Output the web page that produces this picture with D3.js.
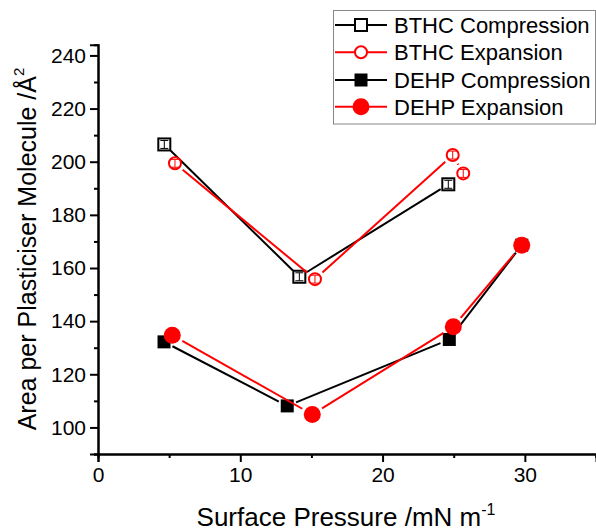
<!DOCTYPE html>
<html>
<head>
<meta charset="utf-8">
<script src="https://cdn.jsdelivr.net/npm/d3@7"></script>
<style>
  html, body { margin: 0; padding: 0; background: #fff; }
  svg { display: block; font-family: "Liberation Sans", Arial, sans-serif; }
</style>
</head>
<body>
<svg id="chart" width="596" height="531"></svg>
<script>
// Surface pressure (mN/m) and area per plasticiser molecule (Å²)
const bthcCompX = [4.66, 14.15, 24.62];
const bthcCompY = [206.5, 156.7, 191.5];
const bthcExpX  = [5.41, 15.25, 24.93, 25.67];
const bthcExpY  = [199.4, 155.8, 202.5, 195.6];
const dehpCompX = [4.64, 13.30, 24.69, 29.78];
const dehpCompY = [132.2, 108.1, 133.1, 168.6];
const dehpExpX  = [5.22, 15.06, 24.97, 29.78];
const dehpExpY  = [134.7, 104.9, 137.9, 168.6];
const errBar = 1.5;

const xTicks = [0, 10, 20, 30];
const yTicks = [100, 120, 140, 160, 180, 200, 220, 240];

const series = [
  { name: "BTHC Compression", xs: bthcCompX, ys: bthcCompY, color: "#000000", shape: "square", filled: false },
  { name: "BTHC Expansion",   xs: bthcExpX,  ys: bthcExpY,  color: "#ff0000", shape: "circle", filled: false },
  { name: "DEHP Compression", xs: dehpCompX, ys: dehpCompY, color: "#000000", shape: "square", filled: true },
  { name: "DEHP Expansion",   xs: dehpExpX,  ys: dehpExpY,  color: "#ff0000", shape: "circle", filled: true }
];

const svg = d3.select("#chart");
const x = d3.scaleLinear().domain([0, 35]).range([98, 596]);
const y = d3.scaleLinear().domain([90, 244]).range([454, 44.8]);

// axes
const xAxis = d3.axisBottom(x).tickValues(xTicks).tickSize(8).tickPadding(5).tickFormat(d3.format("d"));
const yAxis = d3.axisLeft(y).tickValues(yTicks).tickSize(8).tickPadding(4).tickFormat(d3.format("d"));
const xMinor = d3.axisBottom(x).tickValues([5, 15, 25, 35]).tickSize(4).tickFormat("");
const yMinor = d3.axisLeft(y).tickValues([90, 110, 130, 150, 170, 190, 210, 230]).tickSize(4).tickFormat("");

function styleAxis(g) {
  g.select(".domain").attr("stroke", "#000").attr("stroke-width", 2);
  g.selectAll(".tick line").attr("stroke", "#000").attr("stroke-width", 2);
  g.selectAll(".tick text").attr("fill", "#000").attr("font-size", 21)
    .attr("font-family", "Liberation Sans, Arial, sans-serif");
}
svg.append("g").attr("transform", `translate(0,${y(90)})`).call(xMinor).call(styleAxis);
svg.append("g").attr("transform", `translate(${x(0)},0)`).call(yMinor).call(styleAxis);
svg.append("g").attr("transform", `translate(0,${y(90)})`).call(xAxis).call(styleAxis);
svg.append("g").attr("transform", `translate(${x(0)},0)`).call(yAxis).call(styleAxis);
svg.selectAll(".domain").attr("d", function () { return d3.select(this).attr("d"); });

// axis titles
const xt = svg.append("text").attr("x", 346).attr("y", 526).attr("text-anchor", "middle")
  .attr("font-size", 26).attr("fill", "#000");
xt.append("tspan").text("Surface Pressure /mN m");
xt.append("tspan").attr("font-size", 16).attr("dy", -11).text("-1");

const yt = svg.append("text").attr("transform", "translate(36,249) rotate(-90)")
  .attr("text-anchor", "middle").attr("font-size", 25).attr("fill", "#000");
yt.append("tspan").text("Area per Plasticiser Molecule /Å");
yt.append("tspan").attr("font-size", 15).attr("dy", -12).text("2");

// marker drawing
function markerSize(s) {
  if (s.shape === "square") return s.filled ? 6.5 : 6;
  return s.filled ? 8.5 : 7;
}
function drawMarker(g, s, cx, cy) {
  const r = markerSize(s);
  if (s.shape === "square") {
    g.append("rect").attr("x", cx - r).attr("y", cy - r).attr("width", 2 * r).attr("height", 2 * r)
      .attr("fill", s.filled ? s.color : "#fff").attr("stroke", s.color).attr("stroke-width", s.filled ? 0 : 2);
  } else {
    g.append("circle").attr("cx", cx).attr("cy", cy).attr("r", s.filled ? r : r - 1)
      .attr("fill", s.filled ? s.color : "#fff").attr("stroke", s.color).attr("stroke-width", s.filled ? 0 : 2);
  }
}

const plot = svg.append("g");
series.forEach(s => {
  const g = plot.append("g");
  const pts = s.xs.map((v, i) => [x(v), y(s.ys[i])]);
  const gap = markerSize(s) + 3;
  // connecting segments stop short of each symbol
  for (let i = 0; i < pts.length - 1; i++) {
    const [x0, y0] = pts[i], [x1, y1] = pts[i + 1];
    const len = Math.hypot(x1 - x0, y1 - y0);
    if (len <= 2 * gap) continue;
    const ux = (x1 - x0) / len, uy = (y1 - y0) / len;
    g.append("line")
      .attr("x1", x0 + ux * gap).attr("y1", y0 + uy * gap)
      .attr("x2", x1 - ux * gap).attr("y2", y1 - uy * gap)
      .attr("stroke", s.color).attr("stroke-width", 2);
  }
  pts.forEach(([cx, cy], i) => {
    drawMarker(g, s, cx, cy);
    const v = s.ys[i];
    const top = y(v + errBar), bot = y(v - errBar);
    g.append("line").attr("x1", cx).attr("x2", cx).attr("y1", top).attr("y2", bot)
      .attr("stroke", s.color).attr("stroke-width", 1);
    [top, bot].forEach(yy => g.append("line").attr("x1", cx - 4).attr("x2", cx + 4)
      .attr("y1", yy).attr("y2", yy).attr("stroke", s.color).attr("stroke-width", 1));
  });
});

// legend
const lg = svg.append("g");
lg.append("rect").attr("x", 333.5).attr("y", 10.5).attr("width", 262).attr("height", 113.5)
  .attr("fill", "#fff").attr("stroke", "#888").attr("stroke-width", 1);
const rowsY = [25, 52.3, 80, 106.7];
series.forEach((s, i) => {
  const cy = rowsY[i];
  lg.append("line").attr("x1", 335).attr("x2", 387).attr("y1", cy).attr("y2", cy)
    .attr("stroke", s.color).attr("stroke-width", 2);
  drawMarker(lg, s, 361, cy);
  lg.append("text").attr("x", 394).attr("y", cy + 8).attr("font-size", 22).attr("fill", "#000").text(s.name);
});
</script>
</body>
</html>
